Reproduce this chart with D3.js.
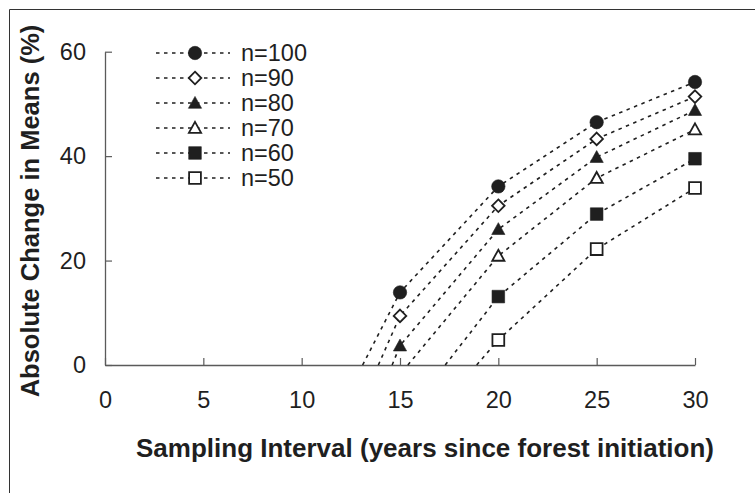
<!DOCTYPE html>
<html>
<head>
<meta charset="utf-8">
<script src="https://cdn.jsdelivr.net/npm/d3@7"></script>
<style>
  html, body { margin: 0; padding: 0; background: #fff; }
  svg { display: block; font-family: "Liberation Sans", Arial, sans-serif; }
</style>
</head>
<body>
<svg id="chart" width="755" height="493"></svg>
<script>
// sampling interval (years since forest initiation) where a mean was taken
var years = [15, 20, 25, 30];
var seriesNames = ['n=100', 'n=90', 'n=80', 'n=70', 'n=60', 'n=50'];

// absolute change in means (%), null where nothing is plotted
var n100 = [13.9, 34.2, 46.5, 54.2];
var n90 = [9.4, 30.5, 43.3, 51.4];
var n80 = [3.7, 26.0, 39.8, 48.8];
var n70 = [null, 20.9, 35.8, 45.1];
var n60 = [null, 13.1, 28.9, 39.5];
var n50 = [null, 4.8, 22.2, 33.9];

// year at which each dotted line runs into the x axis
var zeroCross = [13.1, 13.9, 14.6, 15.4, 17.3, 18.9];

var xTicks = [0, 5, 10, 15, 20, 25, 30];
var yTicks = [0, 20, 40, 60];

(function () {
  'use strict';

  var ink = '#1f1f1f',
    axisColor = '#5a5a5a';

  var svg = d3.select('#chart');

  var x = d3.scaleLinear().domain([0, 30]).range([105, 695]),
    y = d3.scaleLinear().domain([0, 60]).range([365, 51.7]);

  // marker shapes, "size" is read as half width in px
  var shapes = {
    circle: function (ctx, s) { ctx.moveTo(s, 0); ctx.arc(0, 0, s, 0, 2 * Math.PI); },
    diamond: function (ctx, s) {
      ctx.moveTo(0, -s); ctx.lineTo(s, 0); ctx.lineTo(0, s); ctx.lineTo(-s, 0); ctx.closePath();
    },
    triangle: function (ctx, s) {
      ctx.moveTo(0, -s); ctx.lineTo(s, s * 0.8); ctx.lineTo(-s, s * 0.8); ctx.closePath();
    },
    square: function (ctx, s) { ctx.rect(-s, -s, 2 * s, 2 * s); }
  };

  var series = [
    {name: seriesNames[0], values: n100, shape: 'circle', size: 6.7, filled: true},
    {name: seriesNames[1], values: n90, shape: 'diamond', size: 6.3, filled: false},
    {name: seriesNames[2], values: n80, shape: 'triangle', size: 6.6, filled: true},
    {name: seriesNames[3], values: n70, shape: 'triangle', size: 6.1, filled: false},
    {name: seriesNames[4], values: n60, shape: 'square', size: 6.3, filled: true},
    {name: seriesNames[5], values: n50, shape: 'square', size: 5.9, filled: false}
  ];

  series.forEach(function (s, i) {
    var pts = [{x: zeroCross[i], y: 0, marker: false}];
    s.values.forEach(function (v, j) {
      if (v != null) pts.push({x: years[j], y: v, marker: true});
    });
    s.points = pts;
  });

  function symbolPath(s) {
    return d3.symbol().type({draw: shapes[s.shape]}).size(s.size)();
  }

  function styleMarker(sel) {
    sel.attr('fill', function (d) { return d.filled ? ink : '#fff'; })
      .attr('stroke', ink)
      .attr('stroke-width', function (d) { return d.filled ? 0.6 : 1.8; });
  }

  // frame, only top and left edges show in the figure
  svg.append('line').attr('x1', 9.5).attr('y1', 9.5).attr('x2', 755).attr('y2', 9.5)
    .attr('stroke', '#333');
  svg.append('line').attr('x1', 9.5).attr('y1', 9.5).attr('x2', 9.5).attr('y2', 493)
    .attr('stroke', '#333');

  var xAxis = svg.append('g')
    .attr('transform', 'translate(0,' + y(0) + ')')
    .call(d3.axisBottom(x).tickValues(xTicks).tickSizeInner(-7).tickSizeOuter(0).tickPadding(26));

  var yAxis = svg.append('g')
    .attr('transform', 'translate(' + x(0) + ',0)')
    .call(d3.axisLeft(y).tickValues(yTicks).tickSizeInner(-7).tickSizeOuter(0).tickPadding(19));

  [xAxis, yAxis].forEach(function (g) {
    g.select('.domain').attr('stroke', axisColor).attr('stroke-width', 1.3);
    g.selectAll('.tick line').attr('stroke', axisColor).attr('stroke-width', 1.2);
    g.selectAll('.tick text').attr('fill', ink).attr('font-size', 23.5);
  });
  xAxis.selectAll('.tick text').attr('dy', '0.71em');

  var line = d3.line()
    .x(function (d) { return x(d.x); })
    .y(function (d) { return y(d.y); });

  var groups = svg.append('g').selectAll('g.series')
    .data(series)
    .join('g')
    .attr('class', 'series');

  groups.append('path')
    .attr('d', function (d) { return line(d.points); })
    .attr('fill', 'none')
    .attr('stroke', ink)
    .attr('stroke-width', 1.6)
    .attr('stroke-dasharray', '3.5,4.5');

  groups.each(function (s) {
    d3.select(this).selectAll('path.marker')
      .data(s.points.filter(function (p) { return p.marker; }))
      .join('path')
      .attr('class', 'marker')
      .attr('transform', function (p) { return 'translate(' + x(p.x) + ',' + y(p.y) + ')'; })
      .attr('d', symbolPath(s))
      .datum(s)
      .call(styleMarker);
  });

  // legend
  var legend = svg.append('g').selectAll('g')
    .data(series)
    .join('g')
    .attr('transform', function (d, i) { return 'translate(0,' + (53 + i * 25) + ')'; });

  legend.append('line')
    .attr('x1', 156).attr('x2', 230)
    .attr('stroke', ink)
    .attr('stroke-width', 1.6)
    .attr('stroke-dasharray', '3.5,4.5');

  legend.append('path')
    .attr('transform', 'translate(195,0)')
    .attr('d', symbolPath)
    .call(styleMarker);

  legend.append('text')
    .attr('x', 241)
    .attr('dy', '0.36em')
    .attr('font-size', 23.5)
    .attr('fill', ink)
    .text(function (d) { return d.name; });

  // axis titles
  svg.append('text')
    .attr('x', 425)
    .attr('y', 457)
    .attr('text-anchor', 'middle')
    .attr('font-size', 26)
    .attr('font-weight', 'bold')
    .attr('fill', ink)
    .text('Sampling Interval (years since forest initiation)');

  svg.append('text')
    .attr('transform', 'translate(30,211) rotate(-90)')
    .attr('text-anchor', 'middle')
    .attr('dy', '0.36em')
    .attr('font-size', 25.5)
    .attr('font-weight', 'bold')
    .attr('fill', ink)
    .text('Absolute Change in Means (%)');
}());
</script>
</body>
</html>
